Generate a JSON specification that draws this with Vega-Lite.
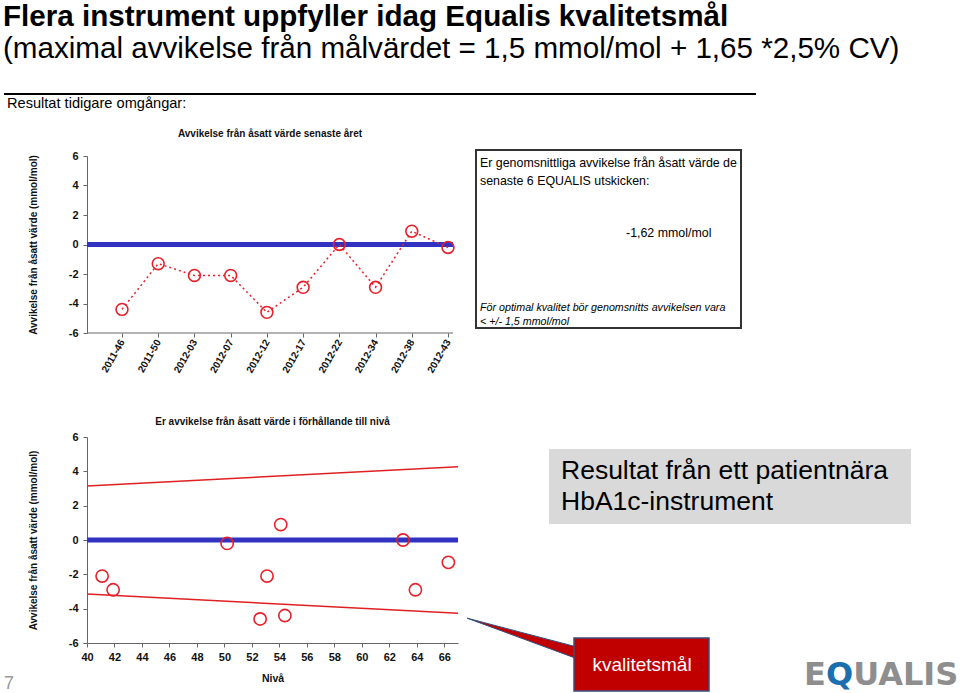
{
  "$schema": "https://vega.github.io/schema/vega-lite/v6.json",
  "background": "white",
  "padding": {"left": 3, "top": 1, "right": 0, "bottom": 0},
  "config": {"view": {"stroke": null}, "font": "Liberation Sans, Arial, sans-serif", "axis": {"labelOverlap": false}},
  "title": {
    "text": "Flera instrument uppfyller idag Equalis kvalitetsmål",
    "subtitle": "(maximal avvikelse från målvärdet = 1,5 mmol/mol + 1,65 *2,5% CV)",
    "anchor": "start",
    "font": "Liberation Sans, Arial, sans-serif",
    "fontSize": 29.6,
    "fontWeight": "bold",
    "color": "#000000",
    "subtitleFont": "Liberation Sans, Arial, sans-serif",
    "subtitleFontSize": 29.6,
    "subtitleColor": "#000000",
    "subtitlePadding": 3,
    "offset": 28
  },
  "spacing": 17,
  "vconcat": [
    {
      "width": 669,
      "height": 18,
      "data": {"values": [{}]},
      "layer": [
        {"mark": {"type": "rule", "color": "#000000", "strokeWidth": 2},
         "encoding": {"x": {"datum": -83, "type": "quantitative", "scale": {"domain": [0, 669]}, "axis": null}, "x2": {"datum": 669}, "y": {"datum": 0, "type": "quantitative", "scale": {"domain": [0, 18], "reverse": true}, "axis": null}}},
        {"mark": {"type": "text", "text": "Resultat tidigare omgångar:", "align": "left", "baseline": "middle", "fontSize": 14.6, "color": "#000000"},
         "encoding": {"x": {"datum": -80, "type": "quantitative", "scale": {"domain": [0, 669]}, "axis": null}, "y": {"datum": 10, "type": "quantitative", "scale": {"domain": [0, 18], "reverse": true}, "axis": null}}}
      ]
    },
    {
      "spacing": 42,
      "vconcat": [
        {
          "spacing": 17,
          "hconcat": [
            {
              "width": 366,
              "height": 177,
              "title": {"text": "Avvikelse från åsatt värde senaste året", "fontSize": 10, "fontWeight": "bold", "color": "#111111", "offset": 11},
              "data": {"values": [
                {"omgang": "2011-46", "avvikelse": -4.4},
                {"omgang": "2011-50", "avvikelse": -1.3},
                {"omgang": "2012-03", "avvikelse": -2.1},
                {"omgang": "2012-07", "avvikelse": -2.1},
                {"omgang": "2012-12", "avvikelse": -4.6},
                {"omgang": "2012-17", "avvikelse": -2.9},
                {"omgang": "2012-22", "avvikelse": 0.0},
                {"omgang": "2012-34", "avvikelse": -2.9},
                {"omgang": "2012-38", "avvikelse": 0.9},
                {"omgang": "2012-43", "avvikelse": -0.2}
              ]},
              "layer": [
                {
                  "data": {"values": [{}]},
                  "mark": {"type": "rule", "color": "#3232c2", "strokeWidth": 5},
                  "encoding": {"y": {"datum": 0, "type": "quantitative"}}
                },
                {
                  "data": {"values": [{}]},
                  "mark": {"type": "rule", "color": "#666666", "strokeWidth": 1},
                  "encoding": {"y": {"datum": -6, "type": "quantitative"}}
                },
                {
                  "mark": {"type": "line", "color": "#e8202a", "strokeWidth": 1.5, "strokeDash": [2, 3]},
                  "encoding": {
                    "x": {"field": "omgang", "type": "ordinal", "sort": null, "scale": {"type": "point", "range": [35, 361], "padding": 0},
                      "axis": {"title": null, "labelAngle": -60, "labelAlign": "right", "labelBaseline": "middle", "labelFontSize": 10, "labelFontWeight": "bold", "labelColor": "#111111", "labelPadding": 3, "labelOverlap": false, "tickSize": 4, "tickColor": "#666666", "domain": false}},
                    "y": {"field": "avvikelse", "type": "quantitative", "scale": {"domain": [-6, 6], "nice": false, "zero": false},
                      "axis": {"values": [-6, -4, -2, 0, 2, 4, 6], "tickCount": 20, "labelExpr": "datum.value + ''", "grid": false, "title": "Avvikelse från åsatt värde (mmol/mol)", "titleFontSize": 10, "titleFontWeight": "bold", "titleColor": "#111111", "titlePadding": 30, "labelFontSize": 11, "labelFontWeight": "bold", "labelColor": "#111111", "labelPadding": 5, "labelOverlap": false, "labelBound": false, "tickSize": 4, "tickColor": "#666666", "domainColor": "#666666"}}
                  }
                },
                {
                  "mark": {"type": "point", "shape": "circle", "filled": false, "color": "#e8202a", "size": 140, "strokeWidth": 1.6, "opacity": 1},
                  "encoding": {
                    "x": {"field": "omgang", "type": "ordinal", "sort": null, "scale": {"type": "point", "range": [35, 361], "padding": 0},
                      "axis": {"title": null, "labelAngle": -60, "labelAlign": "right", "labelBaseline": "middle", "labelFontSize": 10, "labelFontWeight": "bold", "labelColor": "#111111", "labelPadding": 3, "labelOverlap": false, "tickSize": 4, "tickColor": "#666666", "domain": false}},
                    "y": {"field": "avvikelse", "type": "quantitative", "scale": {"domain": [-6, 6], "nice": false, "zero": false},
                      "axis": {"values": [-6, -4, -2, 0, 2, 4, 6], "tickCount": 20, "labelExpr": "datum.value + ''", "grid": false, "title": "Avvikelse från åsatt värde (mmol/mol)", "titleFontSize": 10, "titleFontWeight": "bold", "titleColor": "#111111", "titlePadding": 30, "labelFontSize": 11, "labelFontWeight": "bold", "labelColor": "#111111", "labelPadding": 5, "labelOverlap": false, "labelBound": false, "tickSize": 4, "tickColor": "#666666", "domainColor": "#666666"}}
                  }
                }
              ]
            },
            {
              "width": 265,
              "height": 177,
              "data": {"values": [{}]},
              "layer": [
                {"mark": {"type": "rect", "fill": null, "fillOpacity": 0, "stroke": "#333333", "strokeWidth": 2},
                 "encoding": {"x": {"datum": 0, "type": "quantitative", "scale": {"domain": [0, 265]}, "axis": null}, "x2": {"datum": 265}, "y": {"datum": -6, "type": "quantitative", "scale": {"domain": [0, 177], "reverse": true}, "axis": null}, "y2": {"datum": 172}}},
                {"mark": {"type": "text", "text": "Er genomsnittliga avvikelse från åsatt värde de", "align": "left", "baseline": "middle", "fontSize": 12.4, "color": "#000000"},
                 "encoding": {"x": {"datum": 4, "type": "quantitative", "scale": {"domain": [0, 265]}, "axis": null}, "y": {"datum": 7, "type": "quantitative", "scale": {"domain": [0, 177], "reverse": true}, "axis": null}}},
                {"mark": {"type": "text", "text": "senaste 6 EQUALIS utskicken:", "align": "left", "baseline": "middle", "fontSize": 12.4, "color": "#000000"},
                 "encoding": {"x": {"datum": 4, "type": "quantitative", "scale": {"domain": [0, 265]}, "axis": null}, "y": {"datum": 25, "type": "quantitative", "scale": {"domain": [0, 177], "reverse": true}, "axis": null}}},
                {"mark": {"type": "text", "text": "-1,62 mmol/mol", "align": "left", "baseline": "middle", "fontSize": 12.4, "color": "#000000"},
                 "encoding": {"x": {"datum": 150, "type": "quantitative", "scale": {"domain": [0, 265]}, "axis": null}, "y": {"datum": 77, "type": "quantitative", "scale": {"domain": [0, 177], "reverse": true}, "axis": null}}},
                {"mark": {"type": "text", "text": "För optimal kvalitet bör genomsnitts avvikelsen vara", "align": "left", "baseline": "middle", "fontSize": 10.7, "fontStyle": "italic", "color": "#000000"},
                 "encoding": {"x": {"datum": 4, "type": "quantitative", "scale": {"domain": [0, 265]}, "axis": null}, "y": {"datum": 152, "type": "quantitative", "scale": {"domain": [0, 177], "reverse": true}, "axis": null}}},
                {"mark": {"type": "text", "text": "< +/- 1,5 mmol/mol", "align": "left", "baseline": "middle", "fontSize": 10.7, "fontStyle": "italic", "color": "#000000"},
                 "encoding": {"x": {"datum": 4, "type": "quantitative", "scale": {"domain": [0, 265]}, "axis": null}, "y": {"datum": 166, "type": "quantitative", "scale": {"domain": [0, 177], "reverse": true}, "axis": null}}}
              ]
            }
          ]
        },
        {
          "spacing": 1,
          "hconcat": [
            {
              "width": 371,
              "height": 206,
              "title": {"text": "Er avvikelse från åsatt värde i förhållande till nivå", "fontSize": 10, "fontWeight": "bold", "color": "#111111", "offset": 4},
              "layer": [
                {
                  "data": {"values": [{}]},
                  "mark": {"type": "rule", "color": "#3232c2", "strokeWidth": 5},
                  "encoding": {"y": {"datum": 0, "type": "quantitative"}}
                },
                {
                  "data": {"values": [
                    {"niva": 40, "varde": 3.15, "grans": "övre"},
                    {"niva": 67, "varde": 4.26, "grans": "övre"},
                    {"niva": 40, "varde": -3.15, "grans": "undre"},
                    {"niva": 67, "varde": -4.26, "grans": "undre"}
                  ]},
                  "mark": {"type": "line", "color": "#e02020", "strokeWidth": 1.5},
                  "encoding": {
                    "detail": {"field": "grans"},
                    "x": {"field": "niva", "type": "quantitative", "scale": {"domain": [40, 67], "nice": false, "zero": false},
                      "axis": {"values": [40, 42, 44, 46, 48, 50, 52, 54, 56, 58, 60, 62, 64, 66], "tickCount": 30, "labelExpr": "datum.value + ''", "grid": false, "title": "Nivå", "titleFontSize": 10.5, "titleFontWeight": "bold", "titleColor": "#111111", "titlePadding": 11, "labelFontSize": 11, "labelFontWeight": "bold", "labelColor": "#111111", "labelPadding": 4, "labelFlush": false, "labelOverlap": false, "tickSize": 4, "tickColor": "#666666", "domainColor": "#666666"}},
                    "y": {"field": "varde", "type": "quantitative", "scale": {"domain": [-6, 6], "nice": false, "zero": false},
                      "axis": {"values": [-6, -4, -2, 0, 2, 4, 6], "tickCount": 20, "labelExpr": "datum.value + ''", "grid": false, "title": "Avvikelse från åsatt värde (mmol/mol)", "titleFontSize": 10, "titleFontWeight": "bold", "titleColor": "#111111", "titlePadding": 30, "labelFontSize": 11, "labelFontWeight": "bold", "labelColor": "#111111", "labelPadding": 5, "labelOverlap": false, "labelBound": false, "tickSize": 4, "tickColor": "#666666", "domainColor": "#666666"}}
                  }
                },
                {
                  "data": {"values": [
                    {"niva": 41.1, "varde": -2.1},
                    {"niva": 41.9, "varde": -2.9},
                    {"niva": 50.2, "varde": -0.2},
                    {"niva": 52.6, "varde": -4.6},
                    {"niva": 53.1, "varde": -2.1},
                    {"niva": 54.1, "varde": 0.9},
                    {"niva": 54.4, "varde": -4.4},
                    {"niva": 63.0, "varde": 0.0},
                    {"niva": 63.9, "varde": -2.9},
                    {"niva": 66.3, "varde": -1.3}
                  ]},
                  "mark": {"type": "point", "shape": "circle", "filled": false, "color": "#e8202a", "size": 150, "strokeWidth": 1.6, "opacity": 1},
                  "encoding": {
                    "x": {"field": "niva", "type": "quantitative", "scale": {"domain": [40, 67], "nice": false, "zero": false},
                      "axis": {"values": [40, 42, 44, 46, 48, 50, 52, 54, 56, 58, 60, 62, 64, 66], "tickCount": 30, "labelExpr": "datum.value + ''", "grid": false, "title": "Nivå", "titleFontSize": 10.5, "titleFontWeight": "bold", "titleColor": "#111111", "titlePadding": 11, "labelFontSize": 11, "labelFontWeight": "bold", "labelColor": "#111111", "labelPadding": 4, "labelFlush": false, "labelOverlap": false, "tickSize": 4, "tickColor": "#666666", "domainColor": "#666666"}},
                    "y": {"field": "varde", "type": "quantitative", "scale": {"domain": [-6, 6], "nice": false, "zero": false},
                      "axis": {"values": [-6, -4, -2, 0, 2, 4, 6], "tickCount": 20, "labelExpr": "datum.value + ''", "grid": false, "title": "Avvikelse från åsatt värde (mmol/mol)", "titleFontSize": 10, "titleFontWeight": "bold", "titleColor": "#111111", "titlePadding": 30, "labelFontSize": 11, "labelFontWeight": "bold", "labelColor": "#111111", "labelPadding": 5, "labelOverlap": false, "labelBound": false, "tickSize": 4, "tickColor": "#666666", "domainColor": "#666666"}}
                  }
                },
                {
                  "data": {"values": [{}]},
                  "mark": {"type": "text", "text": "7", "fontSize": 18, "color": "#999999", "align": "center", "baseline": "middle"},
                  "encoding": {"x": {"datum": 34.32, "type": "quantitative"}, "y": {"datum": -8.4, "type": "quantitative"}}
                }
              ]
            },
            {
              "width": 500,
              "height": 257,
              "data": {"values": [{}]},
              "layer": [
                {"mark": {"type": "rect", "color": "#d9d9d9"},
                 "encoding": {"x": {"datum": 87, "type": "quantitative", "scale": {"domain": [0, 500]}, "axis": null}, "x2": {"datum": 449}, "y": {"datum": 12, "type": "quantitative", "scale": {"domain": [0, 257], "reverse": true}, "axis": null}, "y2": {"datum": 87}}},
                {"mark": {"type": "text", "text": "Resultat från ett patientnära", "fontSize": 26.5, "align": "left", "baseline": "middle", "color": "#000000"},
                 "encoding": {"x": {"datum": 99, "type": "quantitative", "scale": {"domain": [0, 500]}, "axis": null}, "y": {"datum": 34, "type": "quantitative", "scale": {"domain": [0, 257], "reverse": true}, "axis": null}}},
                {"mark": {"type": "text", "text": "HbA1c-instrument", "fontSize": 26.5, "align": "left", "baseline": "middle", "color": "#000000"},
                 "encoding": {"x": {"datum": 99, "type": "quantitative", "scale": {"domain": [0, 500]}, "axis": null}, "y": {"datum": 65, "type": "quantitative", "scale": {"domain": [0, 257], "reverse": true}, "axis": null}}},
                {"mark": {"type": "point", "shape": "M-0.96,-0.36 L1.1,0.18 L1.1,0.4 Z", "filled": true, "fill": "#c00000", "stroke": "#2e4f7f", "strokeWidth": 1, "size": 12100, "opacity": 1},
                 "encoding": {"x": {"datum": 58, "type": "quantitative", "scale": {"domain": [0, 500]}, "axis": null}, "y": {"datum": 201, "type": "quantitative", "scale": {"domain": [0, 257], "reverse": true}, "axis": null}}},
                {"mark": {"type": "rect", "fill": "#c00000", "stroke": "#3c4e7c", "strokeWidth": 1.5},
                 "encoding": {"x": {"datum": 112, "type": "quantitative", "scale": {"domain": [0, 500]}, "axis": null}, "x2": {"datum": 247}, "y": {"datum": 201, "type": "quantitative", "scale": {"domain": [0, 257], "reverse": true}, "axis": null}, "y2": {"datum": 254}}},
                {"mark": {"type": "text", "text": "kvalitetsmål", "fontSize": 19, "align": "center", "baseline": "middle", "color": "#ffffff"},
                 "encoding": {"x": {"datum": 180, "type": "quantitative", "scale": {"domain": [0, 500]}, "axis": null}, "y": {"datum": 228, "type": "quantitative", "scale": {"domain": [0, 257], "reverse": true}, "axis": null}}},
                {"mark": {"type": "text", "text": "E", "font": "DejaVu Sans, sans-serif", "fontWeight": "bold", "fontSize": 32, "align": "left", "baseline": "middle", "color": "#8e8e8e"},
                 "encoding": {"x": {"datum": 342, "type": "quantitative", "scale": {"domain": [0, 500]}, "axis": null}, "y": {"datum": 238, "type": "quantitative", "scale": {"domain": [0, 257], "reverse": true}, "axis": null}}},
                {"mark": {"type": "text", "text": "Q", "font": "DejaVu Sans, sans-serif", "fontWeight": "bold", "fontSize": 32, "align": "left", "baseline": "middle", "color": "#1b6fae"},
                 "encoding": {"x": {"datum": 363.9, "type": "quantitative", "scale": {"domain": [0, 500]}, "axis": null}, "y": {"datum": 238, "type": "quantitative", "scale": {"domain": [0, 257], "reverse": true}, "axis": null}}},
                {"mark": {"type": "text", "text": "UALIS", "font": "DejaVu Sans, sans-serif", "fontWeight": "bold", "fontSize": 32, "align": "left", "baseline": "middle", "color": "#8e8e8e"},
                 "encoding": {"x": {"datum": 391.2, "type": "quantitative", "scale": {"domain": [0, 500]}, "axis": null}, "y": {"datum": 238, "type": "quantitative", "scale": {"domain": [0, 257], "reverse": true}, "axis": null}}}
              ]
            }
          ]
        }
      ]
    }
  ]
}
